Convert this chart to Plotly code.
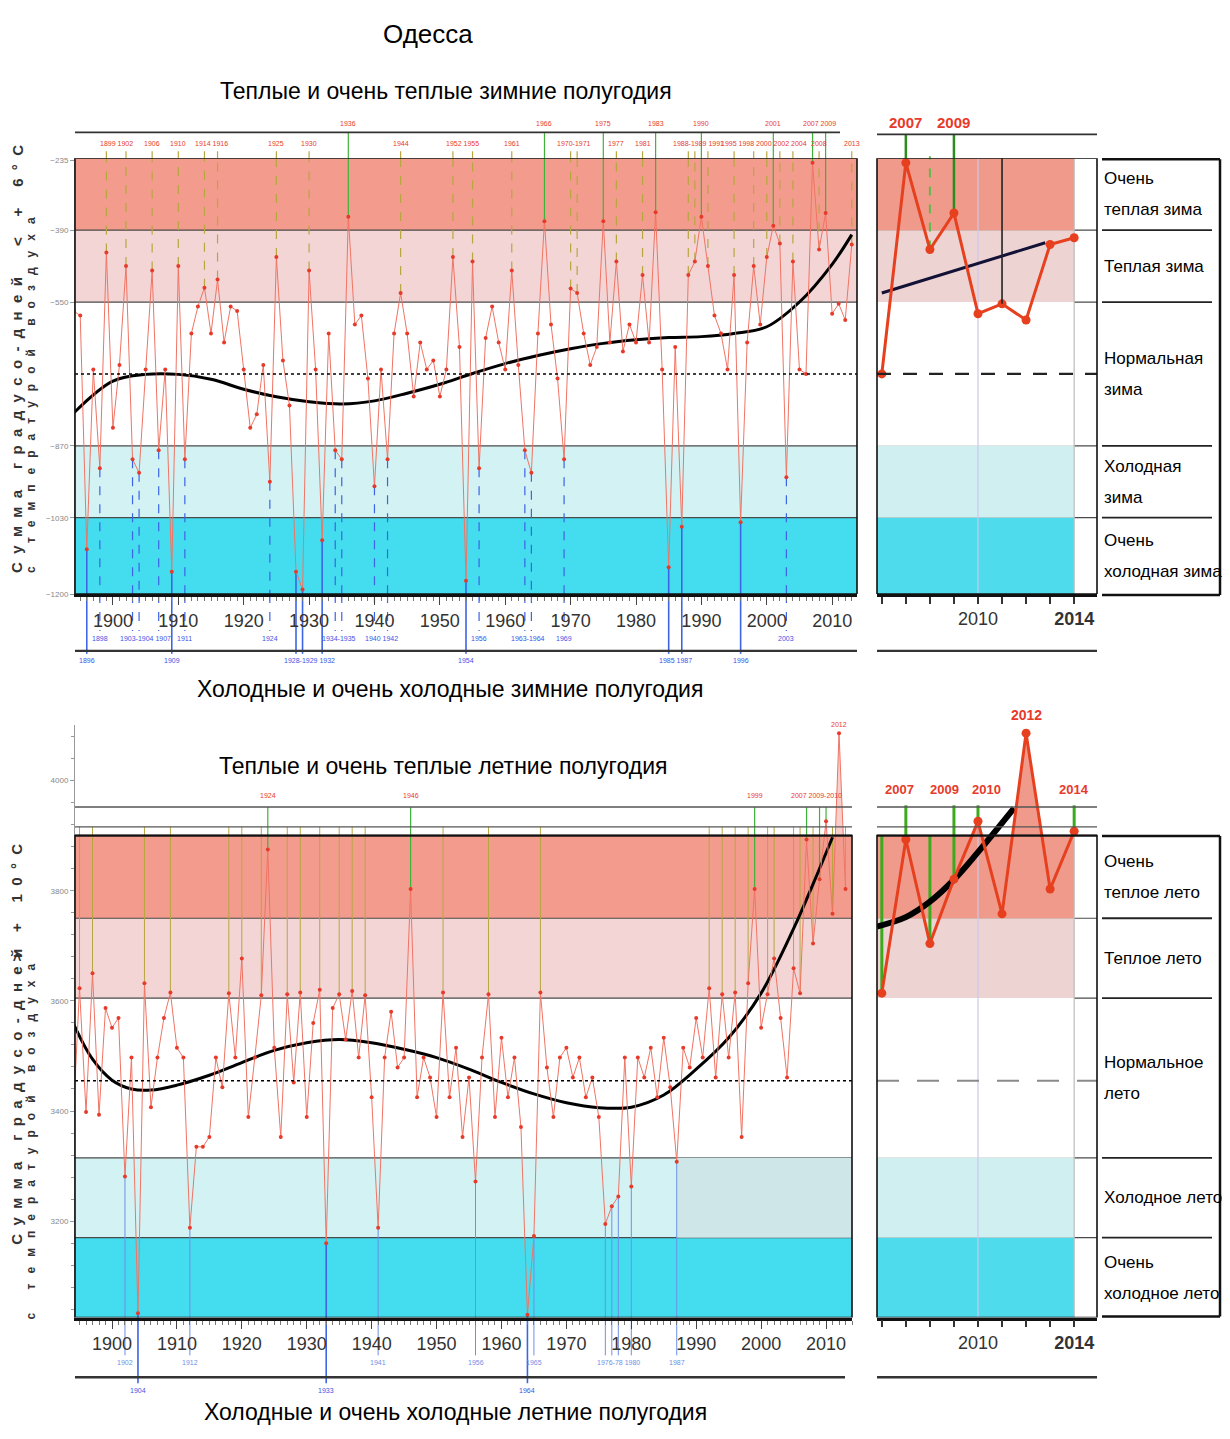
import numpy as np
import plotly.graph_objects as go

W, H = 1230, 1439
NARROW = "Liberation Sans, Arial, Roboto, sans-serif"
SANS = "Liberation Sans, Arial, DejaVu Sans, sans-serif"


def fx(p):
    return p / W


def fy(p):
    return 1 - p / H


# ---------------------------------------------------------------- data
years = list(range(1894, 2015))

# winter half-year degree-day sums (below +6 °C)
winter_sum = [
    -570, -580, -1100, -700, -920, -440, -830, -690, -470, -900,    # 1894-1903
    -930, -700, -480, -880, -700, -1150, -470, -900, -620, -560,    # 1904-1913
    -518, -620, -500, -640, -560, -570, -700, -830, -800, -690,     # 1914-1923
    -950, -450, -680, -780, -1150, -1190, -480, -700, -1080, -620,  # 1924-1933
    -880, -900, -360, -600, -580, -720, -960, -700, -900, -620,     # 1934-1943
    -530, -620, -760, -640, -700, -680, -760, -700, -450, -650,     # 1944-1953
    -1170, -460, -920, -630, -560, -640, -700, -480, -690, -880,    # 1954-1963
    -930, -620, -370, -600, -720, -900, -520, -530, -620, -690,     # 1964-1973
    -650, -370, -640, -460, -660, -600, -640, -490, -640, -350,     # 1974-1983
    -700, -1140, -650, -1050, -490, -460, -360, -470, -580, -620,   # 1984-1993
    -700, -490, -1040, -640, -470, -600, -450, -380, -420, -940,    # 1994-2003
    -460, -700, -710, -240, -433, -352, -576, -554, -590, -422,     # 2004-2013
    -407,                                                           # 2014
]

# summer half-year degree-day sums (above +10 °C)
summer_sum = [
    3380, 3623, 3398, 3650, 3393, 3587, 3551, 3569, 3281, 3497,     # 1894-1903
    3033, 3632, 3407, 3497, 3569, 3615, 3515, 3497, 3188, 3335,     # 1904-1913
    3335, 3353, 3497, 3443, 3614, 3497, 3677, 3389, 3497, 3610,     # 1914-1923
    3875, 3515, 3353, 3612, 3452, 3615, 3389, 3560, 3620, 3160,     # 1924-1933
    3587, 3612, 3530, 3618, 3497, 3610, 3425, 3188, 3497, 3580,     # 1934-1943
    3479, 3497, 3803, 3425, 3497, 3461, 3389, 3615, 3425, 3515,     # 1944-1953
    3353, 3461, 3272, 3497, 3612, 3389, 3533, 3425, 3497, 3371,     # 1954-1963
    3030, 3173, 3615, 3479, 3389, 3497, 3515, 3461, 3497, 3425,     # 1964-1973
    3461, 3389, 3195, 3227, 3245, 3497, 3263, 3497, 3461, 3515,     # 1974-1983
    3425, 3533, 3443, 3308, 3515, 3479, 3569, 3497, 3623, 3461,     # 1984-1993
    3612, 3497, 3615, 3353, 3632, 3803, 3551, 3612, 3677, 3569,     # 1994-2003
    3461, 3659, 3614, 3893, 3704, 3821, 3926, 3758, 4086, 3803,     # 2004-2013
    3908,                                                           # 2014
]

# smoothed trends
winter_trend_years = [1894, 1900, 1905, 1910, 1915, 1920, 1925, 1930, 1935, 1940, 1945,
                      1950, 1955, 1960, 1965, 1970, 1975, 1980, 1985, 1990, 1995, 2000,
                      2005, 2010, 2013]
winter_trend = [-797, -726, -711, -711, -722, -744, -761, -772, -777, -770, -753,
                -733, -709, -687, -669, -654, -642, -634, -629, -627, -620, -605,
                -550, -466, -400]
winter_recent_trend_years = [2006, 2008, 2010, 2012, 2012.8]
winter_recent_trend = [-530, -497, -464, -432, -418]

summer_trend_years = [1894, 1897, 1900, 1903, 1906, 1910, 1915, 1920, 1925, 1930, 1935,
                      1940, 1945, 1950, 1955, 1960, 1965, 1970, 1975, 1980, 1985, 1990,
                      1995, 2000, 2005, 2008, 2011]
summer_trend = [3560, 3494, 3456, 3440, 3438, 3447, 3465, 3488, 3510, 3524, 3530,
                3524, 3512, 3497, 3476, 3452, 3431, 3415, 3406, 3407, 3429, 3476,
                3533, 3614, 3731, 3812, 3897]
summer_recent_trend_years = [2005.8, 2007, 2008, 2009, 2010, 2011.5]
summer_recent_trend = [3735, 3752, 3780, 3820, 3870, 3950]

# class boundaries (very cold | cold | normal | warm | very warm) and norms
winter_edges = [-1200, -1030, -870, -550, -390, -230]
winter_norm = -710
summer_edges = [3025, 3170, 3315, 3605, 3750, 3900]
summer_norm = 3455

# labelled years
winter_very_warm = [1936, 1966, 1975, 1983, 1990, 2001, 2007, 2009]
winter_warm = [1899, 1902, 1906, 1910, 1914, 1916, 1925, 1930, 1944, 1952, 1955, 1961,
               1970, 1971, 1977, 1981, 1988, 1989, 1991, 1995, 1998, 2000, 2002, 2004,
               2008, 2013]
winter_cold = [1898, 1903, 1904, 1907, 1911, 1924, 1934, 1935, 1940, 1942, 1956, 1963,
               1964, 1969, 2003]
winter_very_cold = [1896, 1909, 1928, 1929, 1932, 1954, 1985, 1987, 1996]

summer_very_warm = [1924, 1946, 1999, 2007, 2009, 2010, 2012]
summer_warm = [1895, 1897, 1905, 1909, 1918, 1920, 1923, 1927, 1929, 1932, 1935, 1937,
               1939, 1951, 1958, 1966, 1992, 1994, 1996, 1998, 2001, 2002, 2005, 2006,
               2008, 2011, 2013]
summer_cold = [1902, 1912, 1941, 1956, 1965, 1976, 1977, 1978, 1980, 1987]
summer_very_cold = [1904, 1933, 1964]

winter_recent_labels = [2007, 2009]
summer_recent_labels = [2007, 2009, 2010, 2012, 2014]

winter_classes = ["Очень\nтеплая зима", "Теплая зима", "Нормальная\nзима",
                  "Холодная\nзима", "Очень\nхолодная зима"]
summer_classes = ["Очень\nтеплое лето", "Теплое лето", "Нормальное\nлето",
                  "Холодное лето", "Очень\nхолодное лето"]

decade_ticks = list(range(1900, 2011, 10))
recent_years = list(range(2006, 2015))

# ---------------------------------------------------------------- styling
band_colors = ["#43DDEF", "#D3F2F4", "#FFFFFF", "#F3D5D5", "#F39C8D"]
band_colors_r = ["#4EDCED", "#CFEFF0", "#FFFFFF", "#EED3D3", "#F09A8B"]
RED_LINE = "#F07464"
RED_DOT = "#E63B2B"
RED_BOLD = "#E6401F"
LABEL_RED = "#E83A2A"
LABEL_BLUE = "#3A55E8"
GREEN = "#3FB23A"
OLIVE = "#B8A640"
BLUE = "#3C64E6"

W_TOP, W_BOT = 157, 595          # winter plot area (px)
S_TOP, S_BOT = 727, 1322         # summer plot area (px)
MAIN_L, MAIN_R = 75, 857
SUM_R = 852
RIGHT_L, RIGHT_R = 877, 1097

wv = dict(zip(years, winter_sum))
sv = dict(zip(years, summer_sum))

fig = go.Figure()
shapes = []
annots = []


def text(x, y, s, size, color="black", anchor="center", bold=False, angle=0,
         font=NARROW, xref="paper", yref="paper", yshift=0, xshift=0):
    if bold:
        s = "<b>" + s + "</b>"
    annots.append(dict(x=x, y=y, xref=xref, yref=yref, text=s, showarrow=False,
                       xanchor=anchor, yanchor="middle", textangle=angle, yshift=yshift,
                       xshift=xshift, font=dict(family=font, size=size, color=color)))


def hline(x0, x1, y, color="#333", width=1.5, dash="solid"):
    shapes.append(dict(type="line", xref="paper", yref="paper", x0=fx(x0), x1=fx(x1),
                       y0=fy(y), y1=fy(y), line=dict(color=color, width=width, dash=dash)))


def bands(xa, ya, x_end, edges, colors):
    for lo, hi, c in zip(edges[:-1], edges[1:], colors):
        if x_end is None:
            shapes.append(dict(type="rect", xref=xa + " domain", yref=ya, x0=0, x1=1,
                               y0=lo, y1=hi, fillcolor=c, line_width=0, layer="below"))
        else:
            shapes.append(dict(type="rect", xref=xa, yref=ya, x0=x_end[0], x1=x_end[1],
                               y0=lo, y1=hi, fillcolor=c, line_width=0, layer="below"))
    for e in edges[1:-1]:
        shapes.append(dict(type="line", xref=xa + " domain", yref=ya, x0=0, x1=1,
                           y0=e, y1=e, line=dict(color="#4A4A4A", width=1.2), layer="below"))


def stem(xa, ya, yr, v, v_end, color, dash, width=1.2, paper=None):
    shapes.append(dict(type="line", xref=xa, yref=ya, x0=yr, x1=yr, y0=v, y1=v_end,
                       line=dict(color=color, width=width, dash=dash), layer="below"))
    if paper is not None:
        shapes.append(dict(type="line", xref=xa, yref="paper", x0=yr, x1=yr,
                           y0=fy(paper[0]), y1=fy(paper[1]),
                           line=dict(color=color, width=width, dash=dash), layer="below"))


def clusters(yrs, gap):
    out = []
    for y in sorted(yrs):
        if out and y - out[-1][-1] <= gap:
            out[-1].append(y)
        else:
            out.append([y])
    return out


def cluster_text(c):
    parts, run = [], [c[0]]
    for y in c[1:]:
        if y == run[-1] + 1:
            run.append(y)
        else:
            parts.append(run)
            run = [y]
    parts.append(run)
    words = []
    for r in parts:
        if len(r) == 1:
            words.append(str(r[0]))
        elif len(r) == 2:
            words.append("%d-%d" % (r[0], r[-1]))
        else:
            words.append("%d-%s" % (r[0], str(r[-1])[2:]))
    return " ".join(words)


def year_labels(xa, yrs, ypx, color, size=7, gap=3):
    for c in clusters(yrs, gap):
        text((c[0] + c[-1]) / 2, fy(ypx), cluster_text(c), size, color=color, xref=xa)


def fill_above(xa, ya, xs, vs, level, color):
    # polygon of the series above a level, with crossings interpolated
    px, pv = [], []
    for i in range(len(xs)):
        if i > 0:
            a, b = vs[i - 1] - level, vs[i] - level
            if a * b < 0:
                t = a / (a - b)
                px.append(xs[i - 1] + t * (xs[i] - xs[i - 1]))
                pv.append(level)
        px.append(xs[i])
        pv.append(max(vs[i], level))
    fig.add_trace(go.Scatter(x=px, y=[level] * len(px), mode="lines", line=dict(width=0),
                             xaxis=xa, yaxis=ya, hoverinfo="skip"))
    fig.add_trace(go.Scatter(x=px, y=pv, mode="lines", line=dict(width=0), fill="tonexty",
                             fillcolor=color, xaxis=xa, yaxis=ya, hoverinfo="skip"))


# ================================================================ WINTER
bands("x", "y", None, winter_edges, band_colors)
bands("x2", "y2", (2005.8, 2014), winter_edges, band_colors_r)

shapes.append(dict(type="line", xref="x domain", yref="y", x0=0, x1=1, y0=winter_norm,
                   y1=winter_norm, line=dict(color="black", width=1.6, dash="dot")))
shapes.append(dict(type="line", xref="x2 domain", yref="y2", x0=0, x1=1, y0=winter_norm,
                   y1=winter_norm, line=dict(color="#222", width=2.2, dash="14px,12px")))

top_w, bot_w = winter_edges[-1], winter_edges[0]
for yr in winter_very_warm:
    stem("x", "y", yr, wv[yr], top_w, GREEN, "solid", paper=(W_TOP, 131))
for yr in winter_warm:
    stem("x", "y", yr, wv[yr], top_w, OLIVE, "dash", paper=(W_TOP, 150))
for yr in winter_cold:
    stem("x", "y", yr, wv[yr], bot_w, BLUE, "dash", paper=(W_BOT, 632))
for yr in winter_very_cold:
    stem("x", "y", yr, wv[yr], bot_w, BLUE, "solid", width=1.6, paper=(W_BOT, 655))

year_labels("x", winter_very_warm, 122, LABEL_RED)
year_labels("x", winter_warm, 142, LABEL_RED)
year_labels("x", winter_cold, 640, LABEL_BLUE)
year_labels("x", winter_very_cold, 662, LABEL_BLUE)

w_years = [y for y in years if y <= 2013]
fig.add_trace(go.Scatter(x=winter_trend_years, y=winter_trend, mode="lines",
                         line=dict(color="black", width=3, shape="spline"),
                         xaxis="x", yaxis="y"))
fig.add_trace(go.Scatter(x=w_years, y=[wv[y] for y in w_years], mode="lines+markers",
                         line=dict(color=RED_LINE, width=1),
                         marker=dict(size=4, color=RED_DOT), xaxis="x", yaxis="y"))

# recent winters
shapes.append(dict(type="line", xref="x2", yref="y2", x0=2010, x1=2010, y0=bot_w, y1=top_w,
                   line=dict(color="#C9C9EE", width=1.2), layer="below"))
shapes.append(dict(type="line", xref="x2", yref="y2", x0=2014, x1=2014, y0=bot_w, y1=top_w,
                   line=dict(color="#BBBBBB", width=1.2), layer="below"))
shapes.append(dict(type="line", xref="x2", yref="y2", x0=2011, x1=2011, y0=wv[2011],
                   y1=top_w, line=dict(color="#222", width=1.6)))
for yr in winter_recent_labels:
    stem("x2", "y2", yr, wv[yr], top_w, "#2E8B22", "solid", width=2.5, paper=(W_TOP, 133))
stem("x2", "y2", 2008, wv[2008], top_w, "#5DBB4A", "dash", width=2, paper=(W_TOP, 155))
for yr in winter_recent_labels:
    text(yr, fy(121), str(yr), 15, color=LABEL_RED, bold=True, xref="x2", font=SANS)

fig.add_trace(go.Scatter(x=winter_recent_trend_years, y=winter_recent_trend, mode="lines",
                         line=dict(color="#121236", width=3), xaxis="x2", yaxis="y2"))
fig.add_trace(go.Scatter(x=recent_years, y=[wv[y] for y in recent_years],
                         mode="lines+markers", line=dict(color=RED_BOLD, width=3),
                         marker=dict(size=9, color=RED_BOLD), xaxis="x2", yaxis="y2"))

# ================================================================ SUMMER
bands("x3", "y3", None, summer_edges, band_colors)
shapes.append(dict(type="rect", xref="x3", yref="y3", x0=1987, x1=2014.0,
                   y0=summer_edges[1], y1=summer_edges[2], fillcolor="#CFE6E8",
                   line_width=0, layer="below"))
bands("x4", "y4", (2005.8, 2014), summer_edges, band_colors_r)

S_LINE_HI, S_LINE_LO = 3952, 3916
for xa, ya in (("x3", "y3"), ("x4", "y4")):
    for lvl in (S_LINE_HI, S_LINE_LO):
        shapes.append(dict(type="line", xref=xa + " domain", yref=ya, x0=0, x1=1, y0=lvl,
                           y1=lvl, line=dict(color="#555", width=1.3)))
    shapes.append(dict(type="line", xref=xa + " domain", yref=ya, x0=0, x1=1,
                       y0=summer_edges[-1], y1=summer_edges[-1],
                       line=dict(color="#222", width=2)))

shapes.append(dict(type="line", xref="x3 domain", yref="y3", x0=0, x1=1, y0=summer_norm,
                   y1=summer_norm, line=dict(color="black", width=1.6, dash="dot")))
shapes.append(dict(type="line", xref="x4 domain", yref="y4", x0=0, x1=1, y0=summer_norm,
                   y1=summer_norm, line=dict(color="#8A8A8A", width=2, dash="22px,18px")))

bot_s = summer_edges[0]
for yr in summer_very_warm:
    if sv[yr] < S_LINE_HI:
        stem("x3", "y3", yr, sv[yr], S_LINE_HI, GREEN, "solid")
for yr in summer_warm:
    stem("x3", "y3", yr, sv[yr], S_LINE_LO, OLIVE, "solid", width=1)
for yr in summer_cold:
    stem("x3", "y3", yr, sv[yr], bot_s, "#6F8FE8", "solid", width=1, paper=(S_BOT, 1360))
for yr in summer_very_cold:
    stem("x3", "y3", yr, sv[yr], bot_s, BLUE, "solid", width=1.6, paper=(S_BOT, 1388))

for yr in summer_very_warm:
    if sv[yr] > S_LINE_HI:
        text(yr, sv[yr], str(yr), 7, color=LABEL_RED, xref="x3", yref="y3", yshift=9)
year_labels("x3", [y for y in summer_very_warm if sv[y] <= S_LINE_HI], 797, LABEL_RED)
year_labels("x3", summer_cold, 1367, "#6F8FE8")
year_labels("x3", summer_very_cold, 1395, LABEL_BLUE)

s_years = [y for y in years if y <= 2013]
fill_above("x3", "y3", s_years, [sv[y] for y in s_years], summer_edges[-1],
           "rgba(240,150,140,0.45)")
fig.add_trace(go.Scatter(x=summer_trend_years, y=summer_trend, mode="lines",
                         line=dict(color="black", width=3, shape="spline"),
                         xaxis="x3", yaxis="y3"))
fig.add_trace(go.Scatter(x=s_years, y=[sv[y] for y in s_years], mode="lines+markers",
                         line=dict(color=RED_LINE, width=1),
                         marker=dict(size=4, color=RED_DOT), xaxis="x3", yaxis="y3"))

# recent summers
shapes.append(dict(type="line", xref="x4", yref="y4", x0=2010, x1=2010, y0=bot_s,
                   y1=S_LINE_HI, line=dict(color="#C9C9EE", width=1.2), layer="below"))
shapes.append(dict(type="line", xref="x4", yref="y4", x0=2014, x1=2014, y0=bot_s,
                   y1=summer_edges[-1], line=dict(color="#BBBBBB", width=1.2), layer="below"))
for yr in summer_recent_labels:
    if sv[yr] < S_LINE_HI:
        stem("x4", "y4", yr, sv[yr], 3955, "#3DAA1E", "solid", width=3)
for yr in (2006, 2008):
    stem("x4", "y4", yr, sv[yr], summer_edges[-1], "#3DAA1E", "solid", width=3)
label_shift = {2007: -6, 2009: -9, 2010: 9, 2014: 0}
for yr in summer_recent_labels:
    if sv[yr] > S_LINE_HI:
        text(yr, sv[yr], str(yr), 14, color=LABEL_RED, bold=True, xref="x4", yref="y4",
             yshift=18, font=SANS)
    else:
        text(yr, fy(791), str(yr), 13, color=LABEL_RED, bold=True, xref="x4", font=SANS,
             xshift=label_shift.get(yr, 0))

fill_above("x4", "y4", recent_years, [sv[y] for y in recent_years], summer_edges[-1],
           "rgba(235,120,100,0.75)")
fig.add_trace(go.Scatter(x=summer_recent_trend_years, y=summer_recent_trend, mode="lines",
                         line=dict(color="black", width=6, shape="spline"),
                         xaxis="x4", yaxis="y4"))
fig.add_trace(go.Scatter(x=recent_years, y=[sv[y] for y in recent_years],
                         mode="lines+markers", line=dict(color=RED_BOLD, width=3),
                         marker=dict(size=9, color=RED_BOLD), xaxis="x4", yaxis="y4"))

# ================================================================ frames, rules
for xa, ya, lo, hi in (("x", "y", winter_edges[0], winter_edges[-1]),
                       ("x2", "y2", winter_edges[0], winter_edges[-1]),
                       ("x3", "y3", summer_edges[0], summer_edges[-1]),
                       ("x4", "y4", summer_edges[0], summer_edges[-1])):
    shapes.append(dict(type="rect", xref=xa + " domain", yref=ya, x0=0, x1=1, y0=lo, y1=hi,
                       line=dict(color="#111", width=1.6)))

hline(MAIN_L, 840, 131, width=1.6)
hline(RIGHT_L, RIGHT_R, 133, width=1.6)
hline(MAIN_L, MAIN_R, 652, width=2.4)
hline(RIGHT_L, RIGHT_R, 652, width=2.4)
hline(MAIN_L, 845, 1382, width=2.4)
hline(RIGHT_L, RIGHT_R, 1382, width=2.4)

# class legend boxes
for ya, edges, names, top, bot in (("y2", winter_edges, winter_classes, 158, 596),
                                   ("y4", summer_edges, summer_classes, 838, 1321)):
    shapes.append(dict(type="line", xref="paper", yref="paper", x0=fx(1220), x1=fx(1220),
                       y0=fy(top), y1=fy(bot), line=dict(color="#111", width=2.5)))
    hline(1102, 1220, top, color="#111", width=2.5)
    hline(1102, 1220, bot, color="#111", width=2.5)
    for e in edges[1:-1]:
        shapes.append(dict(type="line", xref="paper", yref=ya, x0=fx(1102), x1=fx(1212),
                           y0=e, y1=e, line=dict(color="#222", width=1.8)))
    for (lo, hi), name in zip(zip(edges[:-1][::-1], edges[1:][::-1]), names):
        lines = name.split("\n")
        mid = (lo + hi) / 2
        for k, ln in enumerate(lines):
            off = (k - (len(lines) - 1) / 2) * 31
            text(fx(1102), mid, ln, 17, anchor="left", yref=ya, yshift=-off)

# ================================================================ titles
text(fx(428), fy(32), "Одесса", 26)
text(fx(446), fy(89), "Теплые и очень теплые зимние полугодия", 23)
text(fx(450), fy(690), "Холодные и очень холодные зимние полугодия", 23)
text(fx(443), fy(768), "Теплые и очень теплые летние полугодия", 23)
text(fx(455), fy(1417), "Холодные и очень холодные летние полугодия", 23)


def spaced(s, gap=" \u00a0"):
    return gap.join(s)


for c1, y1, c2, y2, c3, y3 in (
        ("Сумма градусо-дней", 425, "< + 6°C", 195, "с температурой воздуха", 395),
        ("Сумма градусо-дней", 1100, "> + 10°C", 905, "с температурой воздуха", 1145)):
    text(fx(17), fy(y1), spaced(c1), 15, color="#333", bold=True, angle=-90, font=SANS)
    text(fx(17), fy(y2), spaced(c2), 15, color="#333", bold=True, angle=-90, font=SANS)
    text(fx(31), fy(y3), spaced(c3, " \u00a0 "), 12, color="#333", bold=True, angle=-90,
         font=SANS)

# ================================================================ axes
tickfont = dict(family=NARROW, size=18, color="#333")
main_x = dict(tickvals=decade_ticks, ticks="outside", ticklen=8, tickwidth=1.3,
              tickcolor="#444", tickfont=tickfont, showgrid=False, zeroline=False,
              showline=True, linecolor="#111", linewidth=3,
              minor=dict(ticks="outside", ticklen=4, dtick=1, tickcolor="#777"))
right_x = dict(tickvals=recent_years,
               ticktext=["", "", "", "", "2010", "", "", "", "<b>2014</b>"],
               ticks="outside", ticklen=7, tickwidth=1.5, tickcolor="#333",
               tickfont=tickfont, showgrid=False, zeroline=False, showline=True,
               linecolor="#111", linewidth=2.5)
side_y = dict(ticks="outside", ticklen=4, tickcolor="#999", showgrid=False,
              zeroline=False, showline=True, linecolor="#999", linewidth=1,
              tickfont=dict(family=NARROW, size=8, color="#888"))
hidden_y = dict(showticklabels=False, ticks="", showgrid=False, zeroline=False,
                showline=False)

fig.update_layout(
    width=W, height=H, margin=dict(l=0, r=0, t=0, b=0),
    paper_bgcolor="white", plot_bgcolor="rgba(0,0,0,0)", showlegend=False,
    xaxis=dict(domain=[fx(MAIN_L), fx(MAIN_R)], range=[1894.2, 2013.8], anchor="y",
               **main_x),
    yaxis=dict(domain=[fy(W_BOT), fy(W_TOP)], range=[winter_edges[0], winter_edges[-1]],
               anchor="x", tickvals=[-1200, -1030, -870, -550, -390, -235], **side_y),
    xaxis2=dict(domain=[fx(RIGHT_L), fx(RIGHT_R)], range=[2005.8, 2014.95], anchor="y2",
                **right_x),
    yaxis2=dict(domain=[fy(W_BOT), fy(W_TOP)], range=[winter_edges[0], winter_edges[-1]],
                anchor="x2", **hidden_y),
    xaxis3=dict(domain=[fx(MAIN_L), fx(SUM_R)], range=[1894.3, 2014.0], anchor="y3",
                **main_x),
    yaxis3=dict(domain=[fy(S_BOT), fy(S_TOP)], range=[3025, 4100], anchor="x3",
                tickvals=[3200, 3400, 3600, 3800, 4000],
                **{**side_y, "minor": dict(ticks="outside", ticklen=3, dtick=40,
                                           tickcolor="#999")}),
    xaxis4=dict(domain=[fx(RIGHT_L), fx(RIGHT_R)], range=[2005.8, 2014.95], anchor="y4",
                **right_x),
    yaxis4=dict(domain=[fy(S_BOT), fy(S_TOP)], range=[3025, 4100], anchor="x4",
                **hidden_y),
    shapes=shapes, annotations=annots,
)

fig.write_html("out.html")
